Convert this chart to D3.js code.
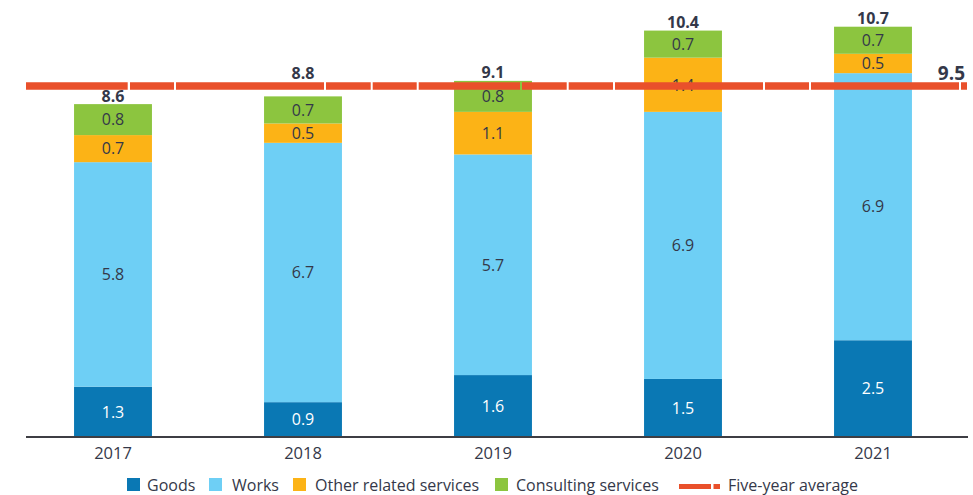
<!DOCTYPE html>
<html>
<head>
<meta charset="utf-8">
<script src="https://cdn.jsdelivr.net/npm/d3@7"></script>
<style>
  body { margin: 0; background: #fff; }
  svg { display: block; font-family: "Open Sans", sans-serif; }
</style>
</head>
<body>
<svg width="973" height="495"></svg>
<script>
// values (US$ billion)
var years = ["2017", "2018", "2019", "2020", "2021"];
var goods = [1.3, 0.9, 1.6, 1.5, 2.5];
var works = [5.8, 6.7, 5.7, 6.9, 6.9];
var otherServices = [0.7, 0.5, 1.1, 1.4, 0.5];
var consulting = [0.8, 0.7, 0.8, 0.7, 0.7];
var totals = [8.6, 8.8, 9.1, 10.4, 10.7];
var fiveYearAvg = 9.5;
var avgLineLevel = 9.07; // where the dashed line actually sits in the picture

var seriesNames = ["Goods", "Works", "Other related services", "Consulting services"];
var colors = ["#0a78b4", "#6ecff5", "#fcb316", "#8cc53f"];
var textColor = "#343849";

var svg = d3.select("svg");

var rows = years.map(function(y, i) {
  return { year: y, Goods: goods[i], Works: works[i],
           "Other related services": otherServices[i], "Consulting services": consulting[i] };
});
var stack = d3.stack().keys(seriesNames)(rows);

var x = d3.scaleBand().domain(years).range([18, 968]).paddingInner(0.59).paddingOuter(0.295);
var y = d3.scaleLinear().domain([0, 11.29]).range([437, 0]);

// bars
var layers = svg.selectAll(".layer")
  .data(stack)
  .enter().append("g")
  .attr("class", "layer")
  .attr("fill", function(d, i) { return colors[i]; });

layers.selectAll("rect")
  .data(function(d) { return d; })
  .enter().append("rect")
  .attr("x", function(d) { return x(d.data.year); })
  .attr("y", function(d) { return y(d[1]); })
  .attr("width", x.bandwidth())
  .attr("height", function(d) { return y(d[0]) - y(d[1]); });

// axis line + year labels
svg.append("line")
  .attr("x1", 26).attr("x2", 968)
  .attr("y1", y(0)).attr("y2", y(0))
  .attr("stroke", "#3e3e44").attr("stroke-width", 2);

var xAxis = svg.append("g")
  .attr("transform", "translate(0," + y(0) + ")")
  .call(d3.axisBottom(x).tickSize(0).tickPadding(10));
xAxis.select(".domain").remove();
xAxis.selectAll("text")
  .attr("font-size", 16.5)
  .attr("fill", textColor)
  .attr("font-family", "Open Sans, sans-serif")
  .attr("dy", "0.71em");

// five-year average line
var lineY = y(avgLineLevel);
svg.append("line")
  .attr("x1", 26).attr("x2", 967)
  .attr("y1", lineY).attr("y2", lineY)
  .attr("stroke", "#e9502b")
  .attr("stroke-width", 7.5)
  .attr("stroke-dasharray", "101.7,2.3,44,2,148,2,44.7,2,44,2,101.3,2,44.7,2,44.3,2,148,2,44,2,148,2,10");

svg.append("text")
  .attr("x", 965).attr("y", 80)
  .attr("text-anchor", "end")
  .attr("font-size", 19).attr("font-weight", 700)
  .attr("fill", textColor)
  .text(fiveYearAvg.toFixed(1));

// segment labels
layers.selectAll("text")
  .data(function(d) { return d; })
  .enter().append("text")
  .attr("x", function(d) { return x(d.data.year) + x.bandwidth() / 2; })
  .attr("y", function(d) { return (y(d[0]) + y(d[1])) / 2; })
  .attr("dy", "0.36em")
  .attr("text-anchor", "middle")
  .attr("font-size", 16)
  .attr("fill", function() { return d3.select(this.parentNode).datum().key === "Goods" ? "#ffffff" : textColor; })
  .text(function(d) {
    var key = d3.select(this.parentNode).datum().key;
    return d.data[key].toFixed(1);
  });

// totals above each bar, lifted above the dashed line where they would collide
var lineTop = lineY - 3.75, lineBottom = lineY + 3.75;
svg.selectAll(".total")
  .data(totals)
  .enter().append("text")
  .attr("class", "total")
  .attr("x", function(d, i) { return x(years[i]) + x.bandwidth() / 2; })
  .attr("y", function(d, i) {
    var top = y(stack[3][i][1]);
    var base = top - 2.5;
    if (base - 11 < lineBottom && base > lineTop - 3) base = lineTop - 3;
    return base;
  })
  .attr("text-anchor", "middle")
  .attr("font-size", 16).attr("font-weight", 700)
  .attr("fill", textColor)
  .text(function(d) { return d.toFixed(1); });

// legend
var legendItems = [
  { name: "Goods", sx: 127, tx: 147 },
  { name: "Works", sx: 209, tx: 232 },
  { name: "Other related services", sx: 293, tx: 315 },
  { name: "Consulting services", sx: 495, tx: 516 }
];
var legend = svg.append("g");
legend.selectAll("rect")
  .data(legendItems)
  .enter().append("rect")
  .attr("x", function(d) { return d.sx; })
  .attr("y", 478)
  .attr("width", 13).attr("height", 13)
  .attr("fill", function(d, i) { return colors[i]; });
legend.selectAll("text")
  .data(legendItems)
  .enter().append("text")
  .attr("x", function(d) { return d.tx; })
  .attr("y", 491)
  .attr("font-size", 16)
  .attr("fill", textColor)
  .text(function(d) { return d.name; });

legend.append("line")
  .attr("x1", 679).attr("x2", 720)
  .attr("y1", 486.5).attr("y2", 486.5)
  .attr("stroke", "#e9502b").attr("stroke-width", 5)
  .attr("stroke-dasharray", "32,2.5,6.5");
legend.append("text")
  .attr("x", 728).attr("y", 491)
  .attr("font-size", 16)
  .attr("fill", textColor)
  .text("Five-year average");
</script>
</body>
</html>
